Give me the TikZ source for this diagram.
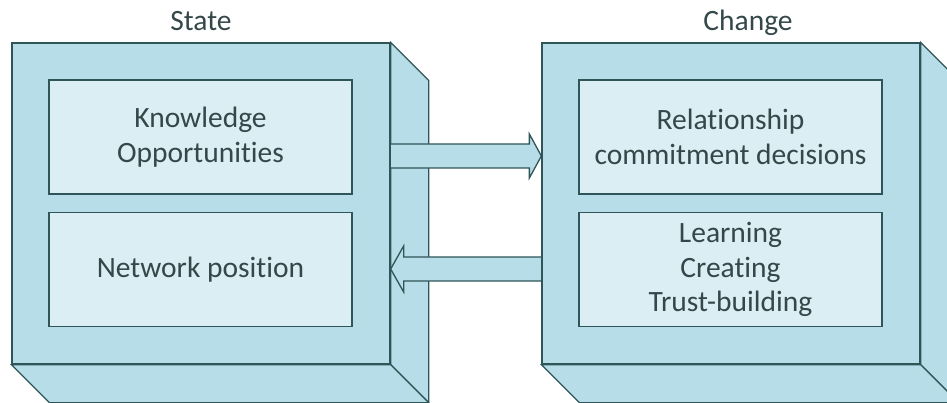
\documentclass[tikz,border=0pt]{standalone}
\usepackage{fontspec}
\setmainfont{Carlito}[Ligatures=NoCommon]
\usetikzlibrary{calc}
\definecolor{cubefill}{HTML}{B7DDE8}
\definecolor{panelfill}{HTML}{DAEEF3}
\definecolor{edge}{HTML}{2F5558}
\definecolor{ink}{HTML}{34484A}
\tikzset{
  face/.style={fill=cubefill, draw=edge, line width=1.3pt, line join=miter},
  front/.style={face, rectangle, inner sep=0pt, minimum width=378pt, minimum height=321pt},
  panel/.style={rectangle, fill=panelfill, draw=edge, line width=1.3pt, inner sep=0pt,
    minimum width=303pt, minimum height=114pt, align=center, text=ink,
    font=\fontsize{29.5}{34.5}\selectfont},
  title/.style={text=ink, font=\fontsize{29.5}{34}\selectfont, inner sep=0pt},
  arrowfill/.style={fill=cubefill},
  arrowline/.style={draw=edge, line width=1.3pt, line join=miter},
}
\newcommand{\cubedepth}[1]{%
  % right and bottom faces of an extruded box
  \draw[face] (#1.north east) -- ++(38,38) -- ($(#1.south east)+(38,38)$) -- (#1.south east) -- cycle;
  \draw[face] (#1.south west) -- ++(38,38) -- ($(#1.south east)+(38,38)$) -- (#1.south east) -- cycle;
}
\begin{document}
\begin{tikzpicture}[x=1pt, y=-1pt]
  \useasboundingbox (0,0) rectangle (947,403);

  % front faces (placed first so their anchors exist; redrawn on top later)
  \path (201,203.5) node[front, draw=none, fill=none] (stateF) {};
  \path (731,203.5) node[front, draw=none, fill=none] (changeF) {};

  % depth faces
  \cubedepth{stateF}
  \cubedepth{changeF}

  % block arrows
  \coordinate (a1) at (0,156);
  \coordinate (a2) at (0,269);
  \coordinate (A1) at (stateF.east |- a1);
  \coordinate (T1) at (changeF.west |- a1);
  \coordinate (B2) at (changeF.west |- a2);
  \coordinate (T2) at (stateF.east |- a2);

  \fill[arrowfill] ($(A1)+(0,-12)$) -- ($(T1)+(-12,-12)$) -- ($(T1)+(-12,-22)$) -- (T1)
     -- ($(T1)+(-12,22)$) -- ($(T1)+(-12,12)$) -- ($(A1)+(0,12)$) -- cycle;
  \draw[arrowline] ($(A1)+(0,-12)$) -- ($(T1)+(-12,-12)$) -- ($(T1)+(-12,-22)$) -- (T1)
     -- ($(T1)+(-12,22)$) -- ($(T1)+(-12,12)$) -- ($(A1)+(0,12)$);

  \fill[arrowfill] ($(B2)+(0,-12)$) -- ($(T2)+(13,-12)$) -- ($(T2)+(13,-23)$) -- (T2)
     -- ($(T2)+(13,23)$) -- ($(T2)+(13,12)$) -- ($(B2)+(0,12)$) -- cycle;
  \draw[arrowline] ($(B2)+(0,-12)$) -- ($(T2)+(13,-12)$) -- ($(T2)+(13,-23)$) -- (T2)
     -- ($(T2)+(13,23)$) -- ($(T2)+(13,12)$) -- ($(B2)+(0,12)$);

  % front faces
  \node[front] at (stateF) {};
  \node[front] at (changeF) {};

  % titles
  \node[title, anchor=base] (stateT) at (201,31) {State};
  \node[title, anchor=base] (changeT) at (748,31) {Change};

  % inner panels
  \node[panel] (know) at (200.5,137) {Knowledge\\Opportunities};
  \node[panel] (netpos) at (200.5,269.5) {Network position};
  \node[panel] (rel) at (730.5,137) {Relationship\\commitment decisions};
  \node[panel] (learn) at (730.5,269.5) {Learning\\Creating\\Trust-building};
\end{tikzpicture}
\end{document}
